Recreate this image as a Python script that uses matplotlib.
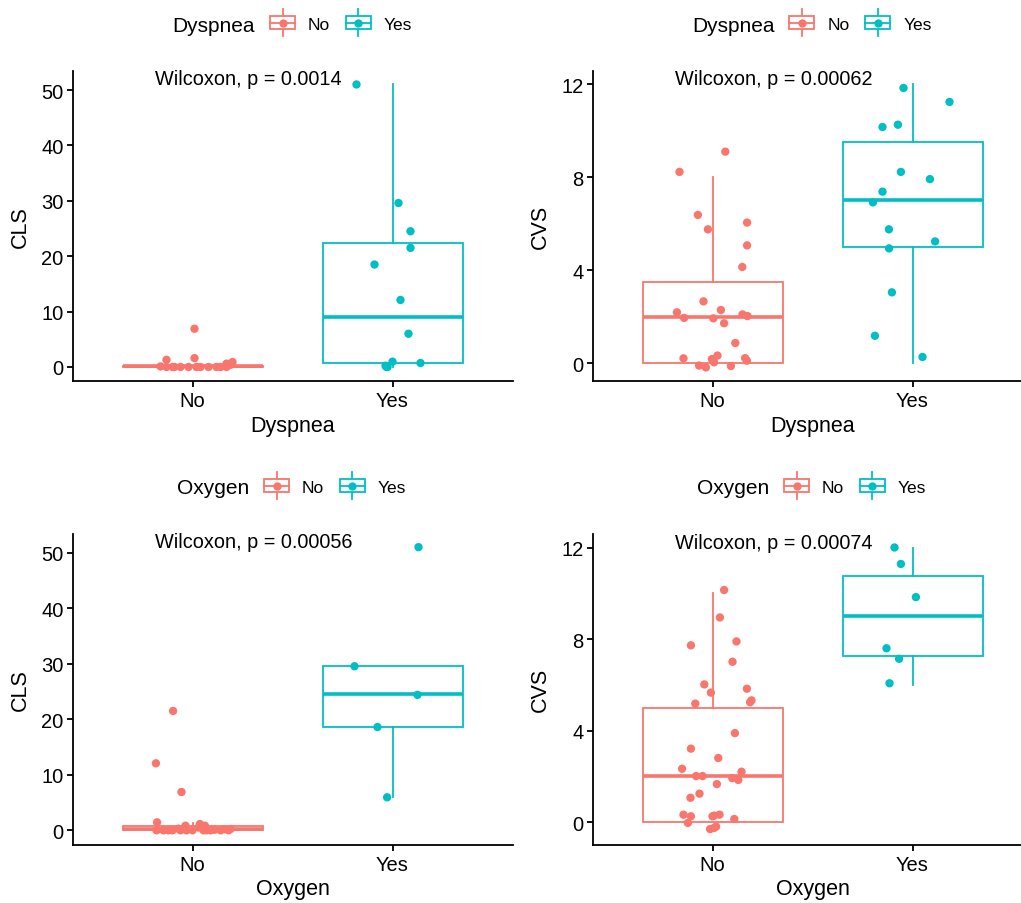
import matplotlib.pyplot as plt
from matplotlib.legend_handler import HandlerBase
from matplotlib.lines import Line2D
from matplotlib.patches import Rectangle
import numpy as np

plt.rcParams['font.family'] = ['Liberation Sans', 'DejaVu Sans']

RED = '#F8766D'
CYAN = '#00BFC4'
groups = ['No', 'Yes']

# --- CLS by Dyspnea ---
cls_dysp_no = [6.9, 1.3, 1.6, 0.9, 0.6, 0.1, 0, 0, 0, 0, 0, 0, 0, 0, 0, 0, 0, 0.4]
cls_dysp_no_jit = [0.01, -0.13, 0.01, 0.2, 0.17, -0.16, -0.1, -0.06, -0.02, 0.02,
                   0.04, 0.08, 0.12, 0.14, 0.17, -0.13, -0.09, 0.19]
cls_dysp_yes = [51, 29.6, 24.5, 21.5, 18.5, 12.1, 6.0, 0.96, 0.23, 0, 0.72, 0]
cls_dysp_yes_jit = [-0.18, 0.03, 0.09, 0.09, -0.09, 0.04, 0.08, 0.0, -0.035, -0.025, 0.14, -0.03]
# box stats: whisker low, q1, median, q3, whisker high
cls_dysp_box_no = [0, 0, 0.1, 0.25, 0.25]
cls_dysp_box_yes = [0, 0.66, 9.1, 22.3, 51]

# --- CVS by Dyspnea ---
cvs_dysp_no = [9.09, 8.22, 6.37, 5.75, 6.04, 5.06, 4.13, 2.65, 2.18, 1.94, 1.92, 2.28, 1.71,
               2.09, 2.02, 0.86, 0.2, -0.11, -0.19, 0.17, 0.32, 0.03, -0.13, 0.21, 0.1]
cvs_dysp_no_jit = [0.064, -0.165, -0.073, -0.023, 0.173, 0.173, 0.149, -0.045, -0.178, -0.142,
                   0.004, 0.042, 0.058, 0.15, 0.175, 0.114, -0.145, -0.067, -0.033, -0.003,
                   0.025, 0.008, 0.092, 0.163, 0.172]
cvs_dysp_yes = [11.83, 11.23, 10.15, 10.25, 8.22, 7.91, 7.37, 6.91, 5.75, 5.23, 4.93, 3.04, 1.17, 0.26]
cvs_dysp_yes_jit = [-0.045, 0.185, -0.15, -0.073, -0.058, 0.087, -0.15, -0.198, -0.118, 0.113,
                    -0.117, -0.103, -0.188, 0.05]
cvs_dysp_box_no = [0, 0, 2, 3.5, 8]
cvs_dysp_box_yes = [0, 5, 7, 9.5, 12]

# --- CLS by Oxygen ---
cls_oxy_no = [21.5, 12.07, 6.9, 1.44, 0.83, 1.13, 0.83, 0.23, 0, 0, 0, 0, 0, 0, 0, 0, 0, 0,
              0.3, 0.5, 0.1, 0, 0.2, 0]
cls_oxy_no_jit = [-0.097, -0.183, -0.055, -0.177, -0.035, 0.037, 0.062, 0.19, -0.18, -0.145,
                  -0.1, -0.06, -0.03, 0.0, 0.055, 0.09, 0.14, 0.18, -0.07, 0.03, 0.11, -0.12, 0.16, 0.07]
cls_oxy_yes = [51, 29.55, 24.4, 18.6, 5.95]
cls_oxy_yes_jit = [0.13, -0.19, 0.125, -0.075, -0.027]
cls_oxy_box_no = [0, 0, 0.3, 0.85, 1.4]
cls_oxy_box_yes = [6.0, 18.6, 24.5, 29.6, 29.6]

# --- CVS by Oxygen ---
cvs_oxy_no = [10.15, 8.95, 7.73, 7.9, 7.01, 6.02, 5.66, 5.83, 5.18, 5.24, 5.32, 3.89, 3.21, 2.8,
              2.33, 2.01, 2.01, 2.2, 1.92, 1.84, 1.66, 1.24, 1.06, 0.32, 0.25, -0.04, 0.25, 0.28,
              0.32, 0.13, -0.31, -0.26, -0.2]
cvs_oxy_no_jit = [0.058, 0.037, -0.108, 0.12, 0.1, -0.041, -0.008, 0.172, -0.086, 0.188, 0.195,
                  0.112, -0.108, 0.029, -0.152, -0.082, -0.05, 0.145, 0.099, 0.129, 0.022, -0.065,
                  -0.11, -0.145, -0.108, -0.123, 0.0, 0.008, 0.035, 0.109, -0.012, 0.008, 0.018]
cvs_oxy_yes = [12.01, 11.29, 9.84, 7.6, 7.14, 6.07]
cvs_oxy_yes_jit = [-0.09, -0.058, 0.017, -0.13, -0.067, -0.115]
cvs_oxy_box_no = [0, 0, 2, 5, 10]
cvs_oxy_box_yes = [6, 7.25, 9, 10.75, 12]

# label height for the Wilcoxon text = top of the data
panels = [
    dict(group='Dyspnea', ylab='CLS', p='0.0014', label_y=51,
         no=(cls_dysp_no, cls_dysp_no_jit, cls_dysp_box_no),
         yes=(cls_dysp_yes, cls_dysp_yes_jit, cls_dysp_box_yes),
         ylim=(-2.53, 53.43), yticks=[0, 10, 20, 30, 40, 50]),
    dict(group='Dyspnea', ylab='CVS', p='0.00062', label_y=12,
         no=(cvs_dysp_no, cvs_dysp_no_jit, cvs_dysp_box_no),
         yes=(cvs_dysp_yes, cvs_dysp_yes_jit, cvs_dysp_box_yes),
         ylim=(-0.774, 12.56), yticks=[0, 4, 8, 12]),
    dict(group='Oxygen', ylab='CLS', p='0.00056', label_y=51,
         no=(cls_oxy_no, cls_oxy_no_jit, cls_oxy_box_no),
         yes=(cls_oxy_yes, cls_oxy_yes_jit, cls_oxy_box_yes),
         ylim=(-2.59, 53.37), yticks=[0, 10, 20, 30, 40, 50]),
    dict(group='Oxygen', ylab='CVS', p='0.00074', label_y=12,
         no=(cvs_oxy_no, cvs_oxy_no_jit, cvs_oxy_box_no),
         yes=(cvs_oxy_yes, cvs_oxy_yes_jit, cvs_oxy_box_yes),
         ylim=(-0.993, 12.6), yticks=[0, 4, 8, 12]),
]


class BoxKeyHandler(HandlerBase):
    # legend key that looks like a little boxplot with a dot
    def create_artists(self, legend, orig_handle, xdescent, ydescent, width, height, fontsize, trans):
        c = orig_handle.get_color()
        x0, y0 = -xdescent, -ydescent
        cx, cy = x0 + width / 2, y0 + height / 2
        wl = Line2D([cx, cx], [y0 - height * 0.54, y0 + height * 1.54], color=c, lw=1.3, transform=trans)
        box = Rectangle((x0, y0), width, height, facecolor='white', edgecolor=c,
                        lw=1.3, transform=trans)
        med = Line2D([x0, x0 + width], [cy, cy], color=c, lw=1.3, transform=trans)
        dot = Line2D([cx], [cy], marker='o', ms=6, color=c, mec='none', ls='none', transform=trans)
        return [wl, box, med, dot]


W, H = 1021, 904
fig = plt.figure(figsize=(W / 100, H / 100), dpi=100)

# axes boxes in pixels: left, top, bottom
boxes = [(72.5, 72, 382), (592.5, 72, 382), (72.5, 535, 845.7), (592.5, 535, 845.7)]
# legend: first key start x, key center y, title baseline y (pixels)
leg_pos = [(270, 23, 31.7), (789.3, 23, 31.7), (264, 486, 494.3), (784, 486, 494.3)]

for pan, (lx, ty, by), (kx, ky, tb) in zip(panels, boxes, leg_pos):
    ax = fig.add_axes([lx / W, 1 - by / H, 440 / W, (by - ty) / H])
    for i, (key, col) in enumerate([('no', RED), ('yes', CYAN)]):
        vals, jit, st = pan[key]
        pos = i + 1
        stats = [dict(whislo=st[0], q1=st[1], med=st[2], q3=st[3], whishi=st[4])]
        ax.bxp(stats, positions=[pos], widths=0.7, showfliers=False, showcaps=False,
               patch_artist=True,
               boxprops=dict(facecolor='white', edgecolor=col, linewidth=1.3),
               whiskerprops=dict(color=col, linewidth=1.3),
               medianprops=dict(color=col, linewidth=2.6, solid_capstyle='butt'),
               manage_ticks=False, zorder=2)
        ax.scatter(pos + np.array(jit), vals, s=36, color=col, edgecolors='none', zorder=3)

    ax.set_xlim(0.4, 2.6)
    ax.set_ylim(*pan['ylim'])
    ax.set_xticks([1, 2])
    ax.set_xticklabels(groups)
    ax.set_yticks(pan['yticks'])
    ax.spines['top'].set_visible(False)
    ax.spines['right'].set_visible(False)
    for s in ['left', 'bottom']:
        ax.spines[s].set_linewidth(1.3)
    ax.tick_params(axis='both', length=4.3, width=1.3, labelsize=14.5, colors='black')
    ax.tick_params(axis='x', pad=3.0)
    ax.tick_params(axis='y', pad=2.2)
    ax.set_xlabel(pan['group'], fontsize=15.5)
    ax.set_ylabel(pan['ylab'], fontsize=15.5)
    ax.xaxis.set_label_coords(0.5, -0.142)
    ax.xaxis.label.set_va('center')
    ax.yaxis.set_label_coords(-0.118, 0.5)
    ax.yaxis.label.set_va('center')

    ax.text(0.81, pan['label_y'], 'Wilcoxon, p = ' + pan['p'], fontsize=14.3,
            ha='left', va='baseline')

    handles = [Line2D([], [], color=RED), Line2D([], [], color=CYAN)]
    fig.legend(handles, groups, handler_map={Line2D: BoxKeyHandler()},
               loc='center left', bbox_to_anchor=(kx / W, 1 - (ky + 2) / H), ncol=2,
               frameon=False, fontsize=12.5, borderpad=0, borderaxespad=0,
               handlelength=1.44, handleheight=0.75, handletextpad=0.75, columnspacing=0.9)
    fig.text((kx - 15) / W, 1 - tb / H, pan['group'], fontsize=15,
             ha='right', va='baseline')

fig.savefig('out.png', dpi=100)
